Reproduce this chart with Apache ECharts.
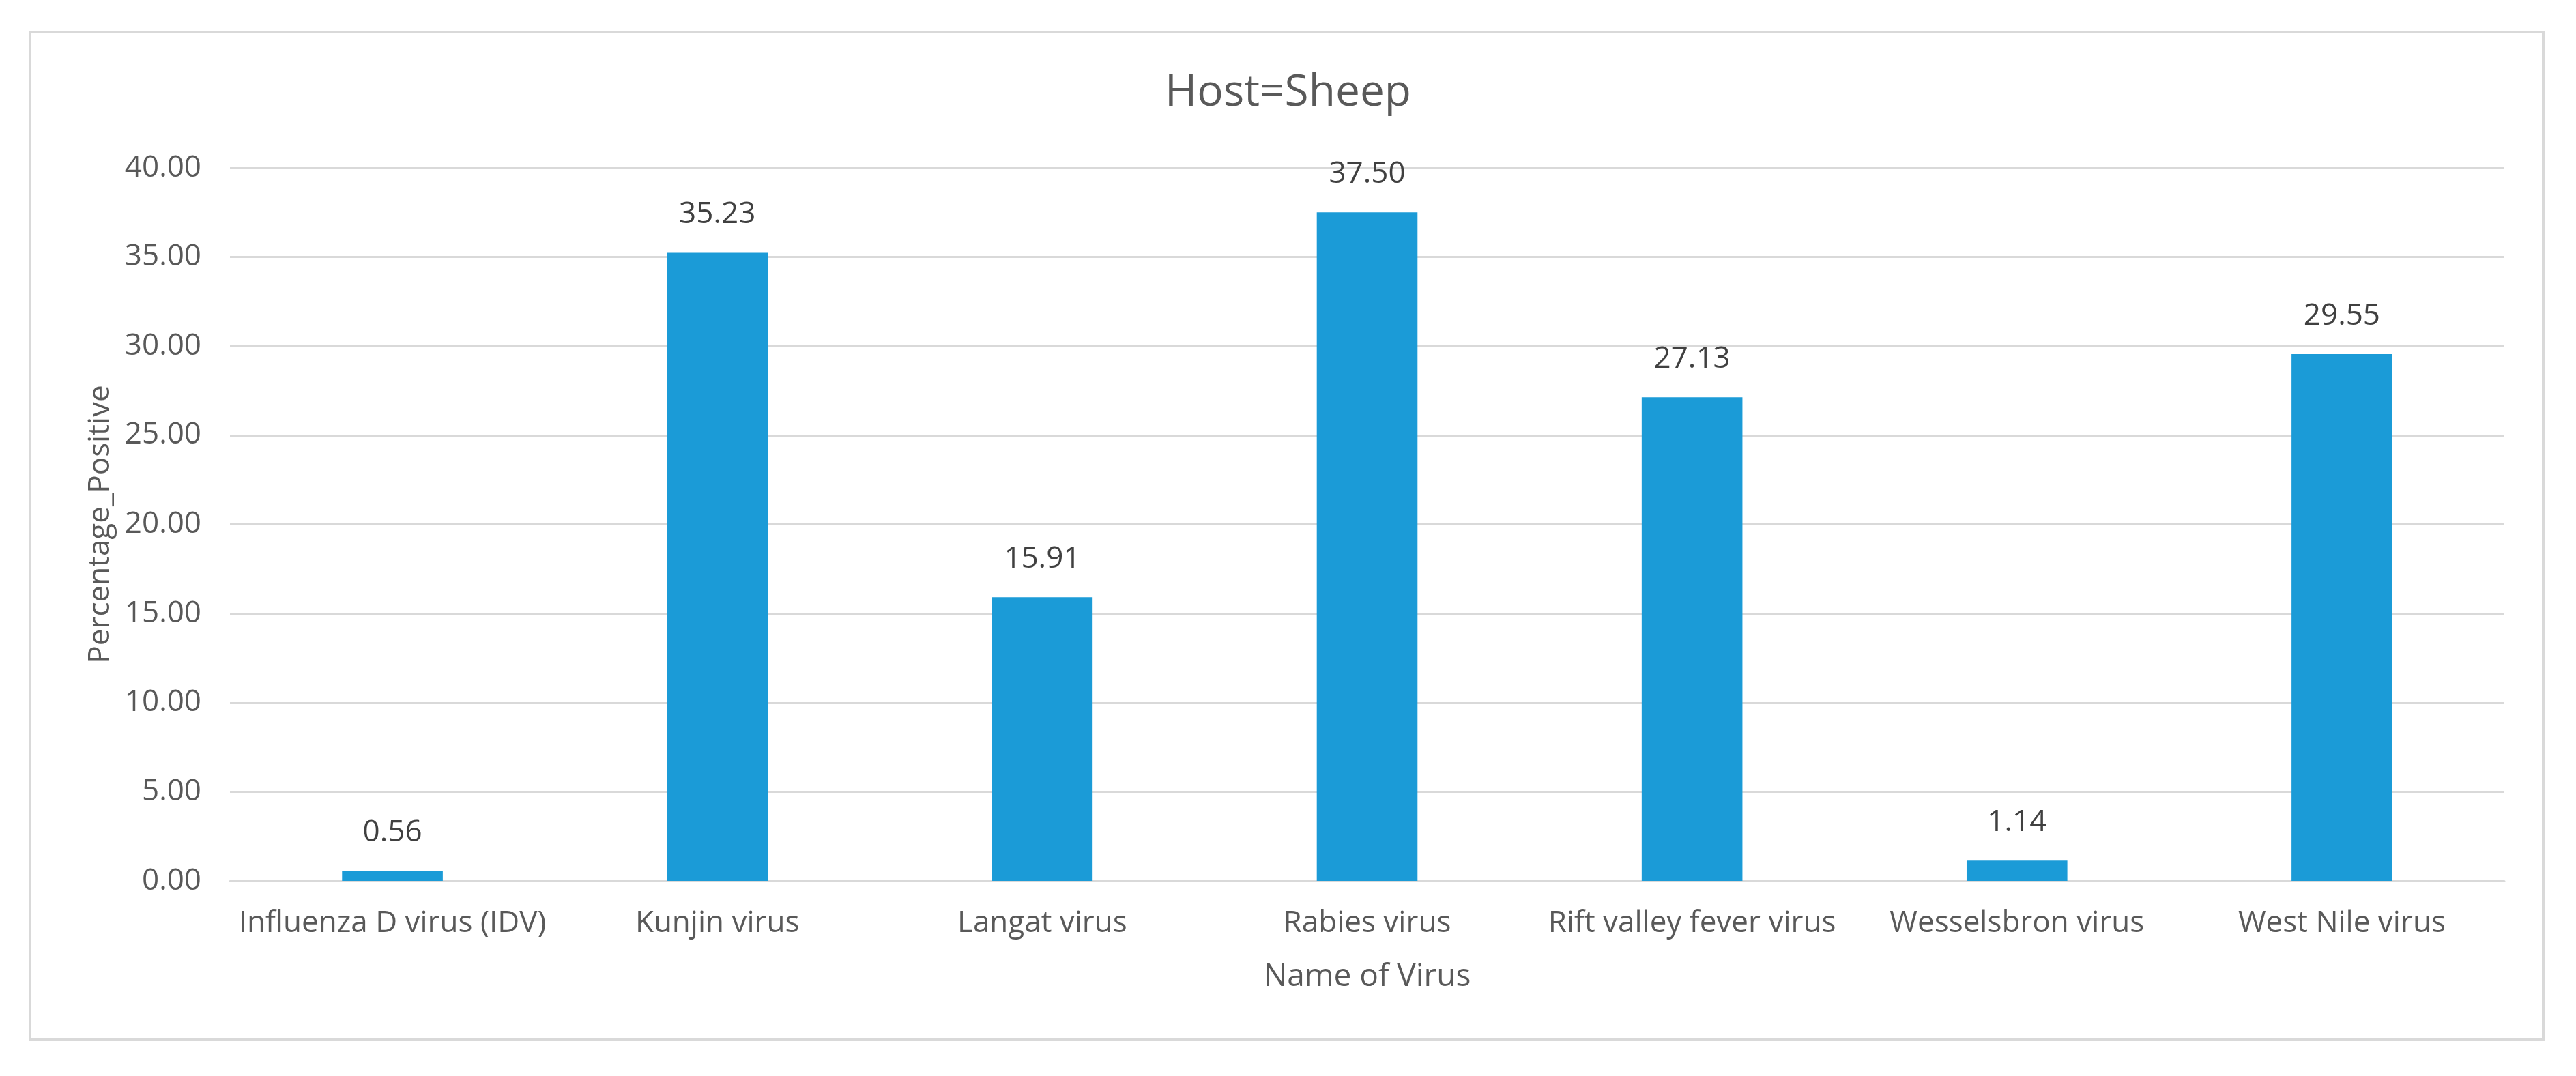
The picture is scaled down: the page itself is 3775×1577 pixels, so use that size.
<!DOCTYPE html>
<html>
<head>
<meta charset="utf-8">
<script src="https://cdn.jsdelivr.net/npm/echarts@6/dist/echarts.min.js"></script>
<style>
html,body{margin:0;padding:0;background:#fff;}
#chart{width:3775px;height:1577px;}
</style>
</head>
<body>
<div id="chart"></div>
<script>
const chartTitle = 'Host=Sheep';
const categories = ['Influenza D virus (IDV)', 'Kunjin virus', 'Langat virus', 'Rabies virus', 'Rift valley fever virus', 'Wesselsbron virus', 'West Nile virus'];
const percentagePositive = [0.56, 35.23, 15.91, 37.50, 27.13, 1.14, 29.55];
const yMin = 0, yMax = 40, yStep = 5;
const xAxisTitle = 'Name of Virus';
const yAxisTitle = 'Percentage_Positive';

const FONT = '"Open Sans", "Noto Sans", sans-serif';
const chart = echarts.init(document.getElementById('chart'));
chart.setOption({
  backgroundColor: '#ffffff',
  animation: false,
  textStyle: { fontFamily: FONT },
  graphic: [{
    type: 'rect',
    shape: { x: 44, y: 47, width: 3683, height: 1476 },
    style: { fill: 'none', stroke: '#d9d9d9', lineWidth: 4 },
    silent: true
  }],
  title: {
    text: chartTitle,
    left: 'center',
    top: 100,
    textStyle: { fontFamily: FONT, fontSize: 64, fontWeight: 'normal', color: '#595959' }
  },
  grid: { left: 337, right: 105, top: 246, bottom: 286, containLabel: false },
  xAxis: {
    type: 'category',
    data: categories,
    name: xAxisTitle,
    nameLocation: 'middle',
    nameGap: 118,
    nameTextStyle: { fontFamily: FONT, fontSize: 46, color: '#595959' },
    axisLine: { show: true, lineStyle: { color: '#d9d9d9', width: 3 } },
    axisTick: { show: false },
    axisLabel: { fontFamily: FONT, fontSize: 44, color: '#595959', margin: 40, interval: 0 },
    splitLine: { show: false }
  },
  yAxis: {
    type: 'value',
    min: yMin,
    max: yMax,
    interval: yStep,
    name: yAxisTitle,
    nameLocation: 'middle',
    nameGap: 168,
    nameTextStyle: { fontFamily: FONT, fontSize: 44, color: '#595959' },
    axisLine: { show: false },
    axisTick: { show: false },
    axisLabel: { fontFamily: FONT, fontSize: 44, color: '#595959', margin: 42, formatter: v => v.toFixed(2) },
    splitLine: { show: true, lineStyle: { color: '#d9d9d9', width: 3 } }
  },
  series: [{
    type: 'bar',
    data: percentagePositive,
    barWidth: '31%',
    itemStyle: { color: '#1b9bd7' },
    label: {
      show: true,
      position: 'top',
      distance: 34,
      fontFamily: FONT,
      fontSize: 44,
      color: '#404040',
      formatter: p => p.value.toFixed(2)
    }
  }]
});
</script>
</body>
</html>
